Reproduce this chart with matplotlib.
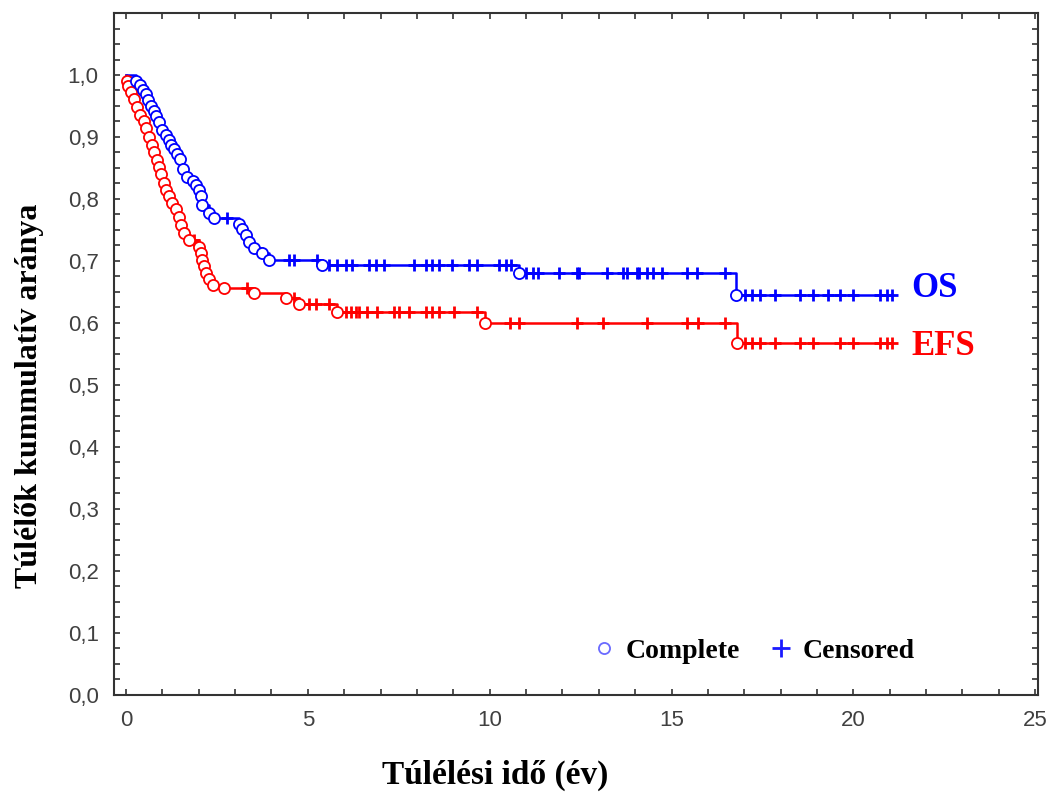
import numpy as np
import matplotlib
matplotlib.use("Agg")
import matplotlib.pyplot as plt
from matplotlib.lines import Line2D
from matplotlib.ticker import MultipleLocator, FuncFormatter

# OS - esemenyek (ev, tulelesi arany)
os_time = [0.28, 0.40, 0.48, 0.54, 0.61, 0.68, 0.77, 0.84, 0.91, 1.00,
           1.09, 1.18, 1.24, 1.32, 1.41, 1.50, 1.56, 1.69, 1.83, 1.92,
           2.01, 2.06, 2.10, 2.29, 2.42, 3.11, 3.20, 3.30, 3.39, 3.52,
           3.75, 3.94, 5.40, 10.82, 16.78]
os_surv = [0.990, 0.984, 0.976, 0.970, 0.960, 0.950, 0.942, 0.933, 0.924, 0.912,
           0.903, 0.895, 0.887, 0.880, 0.872, 0.864, 0.848, 0.836, 0.829, 0.822,
           0.814, 0.804, 0.790, 0.778, 0.769, 0.760, 0.751, 0.741, 0.731, 0.721,
           0.712, 0.702, 0.693, 0.680, 0.645]
os_censored = [2.78, 4.49, 4.63, 5.26, 5.59, 5.81, 6.06, 6.22, 6.69, 6.88,
               7.10, 7.93, 8.26, 8.42, 8.62, 8.97, 9.44, 9.66, 10.27, 10.44,
               10.60, 11.01, 11.18, 11.32, 11.92, 12.39, 12.47, 13.24, 13.66, 13.79,
               14.04, 14.12, 14.32, 14.48, 14.73, 15.42, 15.69, 16.46, 17.02, 17.21,
               17.43, 17.84, 18.53, 18.89, 19.30, 19.63, 19.99, 20.73, 20.92, 21.06]

# EFS - esemenyek
efs_time = [0.02, 0.05, 0.13, 0.22, 0.31, 0.40, 0.50, 0.55, 0.63, 0.72,
            0.77, 0.86, 0.91, 0.96, 1.05, 1.10, 1.18, 1.28, 1.37, 1.46,
            1.51, 1.60, 1.73, 2.01, 2.06, 2.10, 2.15, 2.19, 2.29, 2.38,
            2.70, 3.52, 4.40, 4.76, 5.81, 9.86, 16.80]
efs_surv = [0.990, 0.982, 0.973, 0.962, 0.949, 0.936, 0.925, 0.914, 0.900, 0.887,
            0.875, 0.863, 0.852, 0.840, 0.826, 0.815, 0.804, 0.793, 0.784, 0.771,
            0.758, 0.745, 0.734, 0.722, 0.712, 0.702, 0.691, 0.680, 0.670, 0.661,
            0.656, 0.648, 0.640, 0.630, 0.618, 0.599, 0.568]
efs_censored = [1.87, 3.33, 4.63, 5.04, 5.23, 5.59, 6.06, 6.19, 6.33, 6.42,
                6.64, 6.91, 7.38, 7.52, 7.79, 8.26, 8.42, 8.62, 9.03, 9.64,
                10.55, 10.82, 12.39, 13.11, 14.34, 15.42, 15.72, 16.46, 17.02, 17.21,
                17.43, 17.84, 18.53, 18.89, 19.63, 19.99, 20.73, 20.92, 21.06]

serif = "Liberation Serif"
sans = "Liberation Sans"


def km_plot(ax, times, surv, cens, color):
    t = np.array([0.0] + times + [max(cens)])
    s = np.array([1.0] + surv + [surv[-1]])
    ax.plot(t, s, drawstyle="steps-post", color=color, lw=1.8, zorder=2)
    # censored marks sit on the current step level
    st = np.array([1.0] + surv)
    idx = np.searchsorted(np.array(times), cens, side="right")
    ax.plot(cens, st[idx], ls="none", marker="+", ms=9, mew=2.0,
            color=color, zorder=3)
    ax.plot(times, surv, ls="none", marker="o", ms=8, mew=1.3,
            mfc="white", mec=color, zorder=4)


def y_fmt(v, p):
    if v > 1.05:
        return ""
    return f"{v:.1f}".replace(".", ",")


fig = plt.figure(figsize=(10.55, 7.95), dpi=100)
ax = fig.add_axes([0.108, 0.1264, 0.876, 0.8572])

km_plot(ax, efs_time, efs_surv, efs_censored, "#ff0000")
km_plot(ax, os_time, os_surv, os_censored, "#0000ff")

ax.set_xlim(-0.33, 25.08)
ax.set_ylim(0.0, 1.10)

ax.xaxis.set_major_locator(MultipleLocator(5))
ax.xaxis.set_minor_locator(MultipleLocator(1))
ax.yaxis.set_major_locator(MultipleLocator(0.1))
ax.yaxis.set_minor_locator(MultipleLocator(0.025))
ax.yaxis.set_major_formatter(FuncFormatter(y_fmt))
ax.xaxis.set_major_formatter(FuncFormatter(lambda v, p: f"{v:.0f}"))
ax.tick_params(which="both", direction="in", top=True, right=True,
               length=4, width=1.2, colors="#333333", labelsize=16, pad=11)
for lab in ax.get_xticklabels() + ax.get_yticklabels():
    lab.set_fontfamily(sans)
    lab.set_color("#404040")
for sp in ax.spines.values():
    sp.set_linewidth(1.5)
    sp.set_color("#333333")

ax.set_xlabel("Túlélési idő (év)", fontfamily=serif, fontweight="bold", fontsize=24,
              va="center")
ax.set_ylabel("Túlélők kummulatív aránya", fontfamily=serif, fontweight="bold", fontsize=23,
              va="center")
ax.xaxis.set_label_coords(0.412, -0.118)
ax.yaxis.set_label_coords(-0.091, 0.439)

ax.text(21.6, 0.656, "OS", color="#0000ff", fontfamily=serif, fontweight="bold",
        fontsize=25, ha="left", va="center")
ax.text(21.6, 0.561, "EFS", color="#ff0000", fontfamily=serif, fontweight="bold",
        fontsize=25, ha="left", va="center")

handles = [Line2D([], [], ls="none", marker="o", ms=8, mfc="none", mec="#6a6aff", mew=1.3),
           Line2D([], [], ls="none", marker="+", ms=13, mew=2, color="#1a1aff")]
ax.legend(handles, ["Complete", "Censored"], ncol=2, frameon=False,
          loc="center", bbox_to_anchor=(0.69, 0.064),
          prop={"family": serif, "weight": "bold", "size": 20},
          handletextpad=0.25, columnspacing=0.9, handlelength=1.1)

fig.savefig("out.png", dpi=100)
